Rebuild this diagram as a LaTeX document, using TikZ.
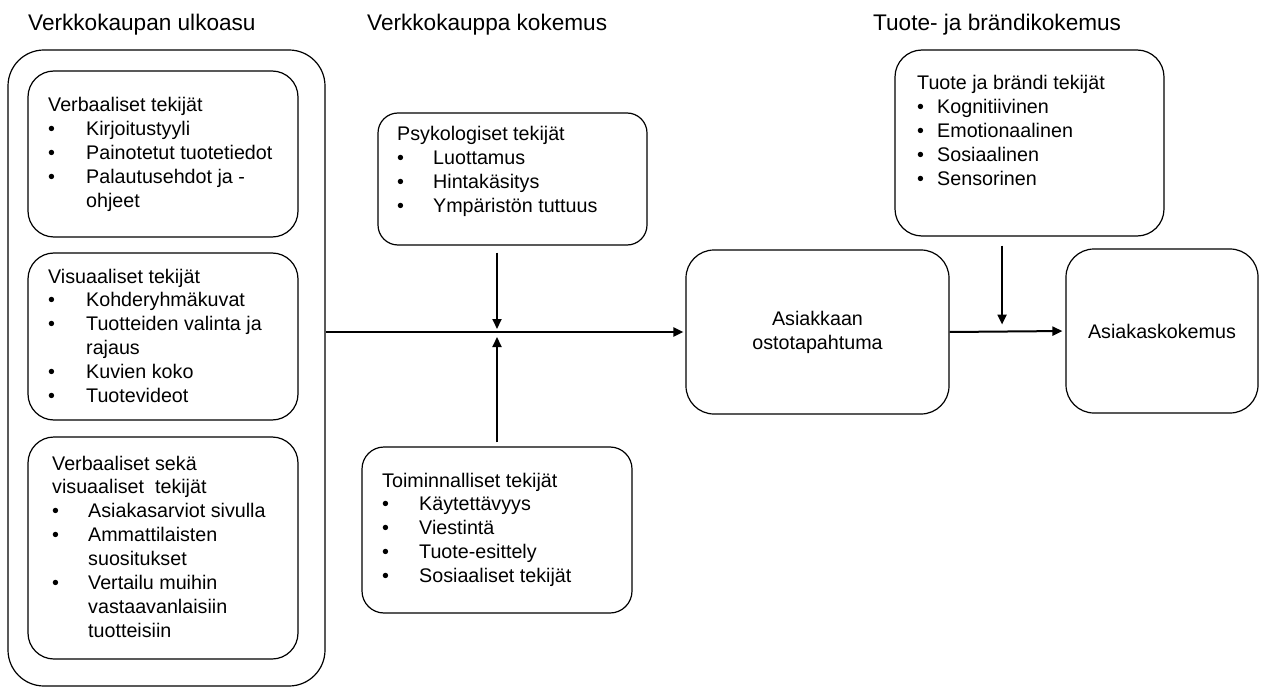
\documentclass[tikz,border=0pt]{standalone}
\usepackage{fontspec}
\setmainfont{Liberation Sans}
\usetikzlibrary{arrows.meta,calc}

\newcommand{\luettelo}[2]{\begin{tabular}[t]{@{}p{#1}@{}l@{}}#2\end{tabular}}
\newcommand{\otsake}[1]{\multicolumn{2}{@{}l@{}}{#1}}

\tikzset{
  laatikko/.style={draw, line width=1.2pt, rounded corners=#1, inner sep=0pt},
  laatikko/.default=26pt,
  leipa/.style={font=\fontsize{19.7}{23.9}\selectfont},
  teksti/.style={leipa, anchor=base west, inner sep=0pt},
  otsikko/.style={anchor=base west, inner sep=0pt, font=\fontsize{22.6}{27}\selectfont},
  nuoli/.style={line width=2pt, -{Triangle[length=10pt,width=9pt]}}
}

\begin{document}
\begin{tikzpicture}[x=1pt, y=-1pt]
\useasboundingbox (0,0) rectangle (1261,687);
% otsikot
\node[otsikko] (ot-ulkoasu) at (28,31) {Verkkokaupan ulkoasu};
\node[otsikko] (ot-kauppa) at (367,31) {Verkkokauppa kokemus};
\node[otsikko] (ot-tuote) at (873,31) {Tuote- ja brändikokemus};
% laatikot
\node[laatikko=36pt, minimum width=317pt, minimum height=636pt] (ulkoasu) at (166.5,368) {};
\node[laatikko, minimum width=270pt, minimum height=166pt] (verbaali) at (163,154) {};
\node[laatikko, minimum width=270pt, minimum height=167pt] (visuaali) at (163,336.5) {};
\node[laatikko, minimum width=270pt, minimum height=222pt] (molemmat) at (163,548) {};
\node[laatikko=20pt, minimum width=269pt, minimum height=132pt] (psyk) at (512.5,179) {};
\node[laatikko=22pt, minimum width=270pt, minimum height=166pt] (toim) at (497,530) {};
\node[laatikko=27pt, minimum width=269pt, minimum height=186pt] (tuote) at (1029.5,143) {};
\node[laatikko=28pt, leipa, align=center, minimum width=263pt, minimum height=164pt] (osto) at (817.5,332) {Asiakkaan\\ostotapahtuma};
\node[laatikko=28pt, leipa, minimum width=192pt, minimum height=164pt] (kokemus) at (1162,331) {Asiakaskokemus};
% tekstit
\node[teksti] (verbaali-t) at (48,112) {\luettelo{38pt}{\otsake{Verbaaliset tekijät}\\
  \textbullet & Kirjoitustyyli\\
  \textbullet & Painotetut tuotetiedot\\
  \textbullet & Palautusehdot ja -\\
  & ohjeet}};
\node[teksti] (visuaali-t) at (48,283) {\luettelo{38pt}{\otsake{Visuaaliset tekijät}\\
  \textbullet & Kohderyhmäkuvat\\
  \textbullet & Tuotteiden valinta ja\\
  & rajaus\\
  \textbullet & Kuvien koko\\
  \textbullet & Tuotevideot}};
\node[teksti] (molemmat-t) at (52,470) {\luettelo{36pt}{\otsake{Verbaaliset sekä}\\
  \otsake{visuaaliset\ \ tekijät}\\
  \textbullet & Asiakasarviot sivulla\\
  \textbullet & Ammattilaisten\\
  & suositukset\\
  \textbullet & Vertailu muihin\\
  & vastaavanlaisiin\\
  & tuotteisiin}};
\node[teksti] (psyk-t) at (397,141) {\luettelo{36pt}{\otsake{Psykologiset tekijät}\\
  \textbullet & Luottamus\\
  \textbullet & Hintakäsitys\\
  \textbullet & Ympäristön tuttuus}};
\node[teksti] (toim-t) at (382,487) {\luettelo{37pt}{\otsake{Toiminnalliset tekijät}\\
  \textbullet & Käytettävyys\\
  \textbullet & Viestintä\\
  \textbullet & Tuote-esittely\\
  \textbullet & Sosiaaliset tekijät}};
\node[teksti] (tuote-t) at (917,90) {\luettelo{20pt}{\otsake{Tuote ja brändi tekijät}\\
  \textbullet & Kognitiivinen\\
  \textbullet & Emotionaalinen\\
  \textbullet & Sosiaalinen\\
  \textbullet & Sensorinen}};
% nuolet
\coordinate (liitos) at (toim.north |- osto.west);
\coordinate (liitos2) at ($(osto.east)!0.453!(kokemus.west)$);
\draw[nuoli, shorten >=2pt] (ulkoasu.east |- osto.west) -- (osto.west);
\draw[nuoli] ($(liitos |- psyk.south)+(0,7)$) -- ($(liitos)+(0,-3)$);
\draw[nuoli] ($(toim.north)+(0,-4)$) -- ($(liitos)+(0,5)$);
\draw[nuoli, shorten >=3pt] (osto.east) -- (kokemus.west);
\draw[nuoli] ($(liitos2 |- tuote.south)+(0,9)$) -- ($(liitos2)+(0,-7)$);
\end{tikzpicture}
\end{document}
